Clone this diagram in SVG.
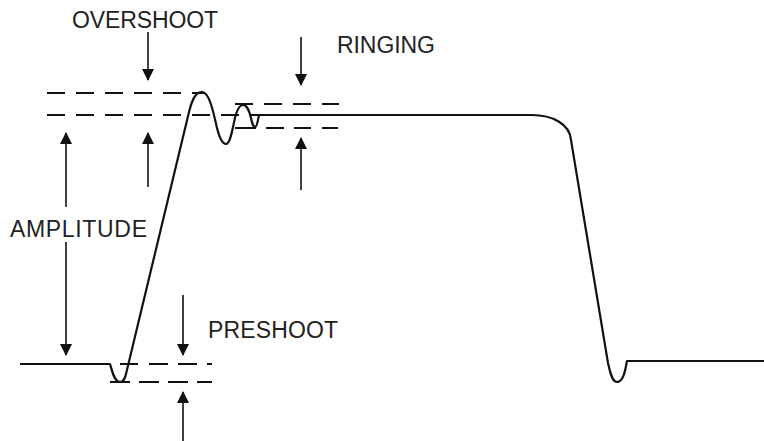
<svg xmlns="http://www.w3.org/2000/svg" width="764" height="441" viewBox="0 0 764 441">
<defs>
<marker id="ah" markerUnits="userSpaceOnUse" markerWidth="12" markerHeight="13" viewBox="0 0 12 13" refX="11" refY="6" orient="auto">
<path d="M0,0 L12,6 L0,12 Z" fill="#111"/>
</marker>
<style>
.lbl{font-family:"Liberation Sans",Arial,sans-serif;font-size:23px;fill:#222}
.wave{fill:none;stroke:#111;stroke-width:2.2;stroke-linejoin:round}
.dash{fill:none;stroke:#111;stroke-width:1.8}
.arr{fill:none;stroke:#111;stroke-width:1.6;marker-end:url(#ah)}
</style>
</defs>
<rect width="764" height="441" fill="#fff"/>
<g id="guides">
<path class="dash" d="M47,93 H65 M76,93 H94 M105,93 H123 M134,93 H152 M163,93 H181 M192,93 H204"/>
<path class="dash" d="M47,115 H65 M76,115 H94 M105,115 H123 M134,115 H152 M163,115 H181 M192,115 H210 M221,115 H239 M250,115 H262"/>
<path class="dash" d="M235,104 H253 M264,104 H282 M293,104 H311 M322,104 H339"/>
<path class="dash" d="M235,128 H256 M266,128 H284 M294,128 H311 M322,128 H338"/>
<path class="dash" d="M120,364 H138 M149,364 H168 M178,364 H197 M207,364 H212"/>
<path class="dash" d="M110,382 H130 M139,382 H159 M168,382 H188 M197,382 H212"/>
</g>
<g id="waveform">
<path class="wave" d="M20,364 L110,364 C112,370 114,382 120,382 C124,382 125,378 126,374 L189,112 C193,96 197,92 202,92 C209,92 213,110 217,128 C220,140 223,144 226,144 C231,144 233,124 236,114 C238,108 240,105 243,105 C247,105 249,110 251,118 C252,124 254,127 255,127 C257,127 258,120 259,115 L532,115 C552,115 570,124 571,140 L608,363 C610,372 612,382 617,382 C623,382 625,372 627,361 L764,361"/>
</g>
<g id="connectors">
<path class="arr" d="M148,32 V80"/>
<path class="arr" d="M148,187 V133"/>
<path class="arr" d="M301,37 V85"/>
<path class="arr" d="M301,190 V138"/>
<path class="arr" d="M66,207 V133"/>
<path class="arr" d="M66,242 V355"/>
<path class="arr" d="M183,295 V355"/>
<path class="arr" d="M183,441 V392"/>
</g>
<g id="label-overshoot"><text class="lbl" x="72" y="28" textLength="146" lengthAdjust="spacing">OVERSHOOT</text></g>
<g id="label-ringing"><text class="lbl" x="337" y="53" textLength="98" lengthAdjust="spacing">RINGING</text></g>
<g id="label-amplitude"><text class="lbl" x="10" y="237" textLength="137" lengthAdjust="spacing">AMPLITUDE</text></g>
<g id="label-preshoot"><text class="lbl" x="208" y="338" textLength="130" lengthAdjust="spacing">PRESHOOT</text></g>
</svg>
